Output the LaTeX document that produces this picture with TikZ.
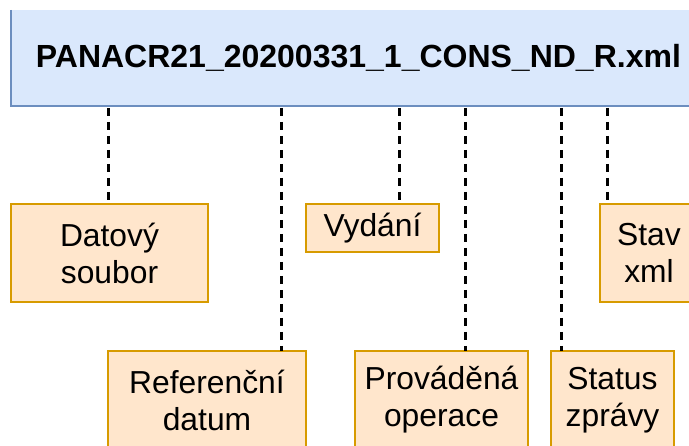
\documentclass[tikz,border=0pt]{standalone}
\usepackage{fontspec}
\setmainfont{Liberation Sans}
\usetikzlibrary{positioning}

\definecolor{fileblue}{HTML}{DAE8FC}
\definecolor{fileline}{HTML}{6C8EBF}
\definecolor{partfill}{HTML}{FFE6CC}
\definecolor{partline}{HTML}{D79B00}

\begin{document}
\begin{tikzpicture}[
    x=1pt, y=-1pt,
    font=\fontsize{31.8}{37}\selectfont, % 字體大小
    outer sep=0pt, % 無外部間距
    % --- 樣式定義 ---
    % 上方檔名方塊
    file box/.style={
        fill=fileblue,
        minimum width=695pt,
        minimum height=96pt,
        inner sep=0pt,
        font=\fontsize{32}{37}\selectfont\bfseries
    },
    % 檔名方塊的邊線
    file edge/.style={draw=fileline, line width=1.8pt},
    % 下方各部分方塊
    part box/.style={
        draw=partline,
        fill=partfill,
        line width=1.8pt,
        align=center,
        inner sep=0pt,
        minimum height=98pt
    },
    % 虛線連接
    link/.style={draw=black, line width=2.2pt, dash pattern=on 8pt off 6pt}
]
    \useasboundingbox (0,0) rectangle (689,446);
    \clip (0,0) rectangle (689,446);

    % ====== 上方:檔名 ======
    \node[file box] (file) at (358.5,58) {PANACR21\_20200331\_1\_CONS\_ND\_R.xml};
    \draw[file edge] (file.north west) -- (file.south west) -- (file.south east);

    % ====== 下方:各部分 ======
    % 第一排
    \node[part box, minimum width=197pt, below right=98pt and 0pt of file.south west] (data) {Datový\\soubor};
    \node[part box, minimum width=133pt, minimum height=48pt, below right=0pt and 98pt of data.north east] (issue) {Vydání};
    \node[part box, minimum width=98pt, below right=0pt and 161pt of issue.north east] (state) {Stav\\xml};

    % 第二排
    \node[part box, minimum width=198pt, below right=245pt and 97pt of file.south west] (refdate) {Referenční\\datum};
    \node[part box, minimum width=173pt, right=49pt of refdate] (oper) {Prováděná\\operace};
    \node[part box, minimum width=123pt, right=23pt of oper] (status) {Status\\zprávy};

    % ====== 虛線連接 ======
    \coordinate (tap data) at (108.5,108);
    \coordinate (tap refdate) at (281.5,108);
    \coordinate (tap issue) at (399.5,108);
    \coordinate (tap oper) at (465.5,108);
    \coordinate (tap status) at (561.5,108);
    \coordinate (tap state) at (607.5,108);

    \draw[link] (tap data) -- (tap data |- data.north);
    \draw[link] (tap refdate) -- (tap refdate |- refdate.north);
    \draw[link] (tap issue) -- (tap issue |- issue.north);
    \draw[link] (tap oper) -- (tap oper |- oper.north);
    \draw[link] (tap status) -- (tap status |- status.north);
    \draw[link] (tap state) -- (tap state |- state.north);

\end{tikzpicture}
\end{document}
